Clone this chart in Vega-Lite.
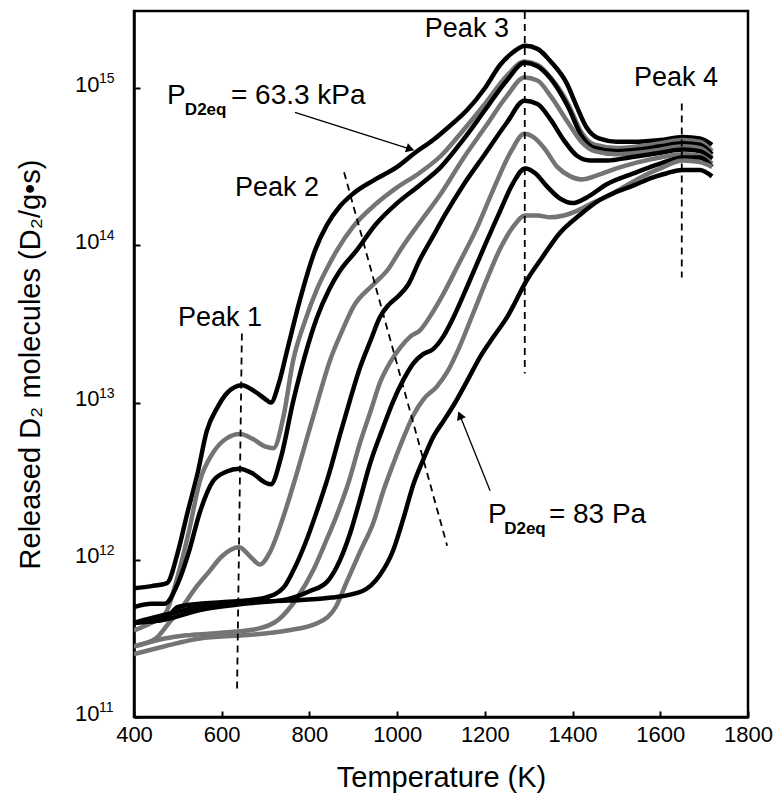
{
"$schema": "https://vega.github.io/schema/vega-lite/v6.json",
"width": 614, "height": 706,
"autosize": {"type": "none"},
"padding": {"left": 134, "top": 11, "right": 29, "bottom": 82},
"background": "white",
"config": {"view": {"stroke": "#000", "strokeWidth": 2.5}, "font": "Liberation Sans", "text": {"font": "Liberation Sans"}},
"datasets": {
"curves": [
{"s":"c1","k":"black","T":400,"v":6.6e11},{"s":"c1","k":"black","T":440,"v":6.8e11},{"s":"c1","k":"black","T":475,"v":7.1e11},{"s":"c1","k":"black","T":500,"v":1.12e12},{"s":"c1","k":"black","T":521,"v":1.95e12},{"s":"c1","k":"black","T":545,"v":3.55e12},{"s":"c1","k":"black","T":566,"v":6.6e12},{"s":"c1","k":"black","T":590,"v":9.3e12},{"s":"c1","k":"black","T":612,"v":1.15e13},{"s":"c1","k":"black","T":646,"v":1.29e13},{"s":"c1","k":"black","T":675,"v":1.18e13},{"s":"c1","k":"black","T":700,"v":1.05e13},{"s":"c1","k":"black","T":712,"v":1.0e13},{"s":"c1","k":"black","T":730,"v":1.32e13},{"s":"c1","k":"black","T":749,"v":2.14e13},{"s":"c1","k":"black","T":778,"v":4.47e13},{"s":"c1","k":"black","T":813,"v":9.33e13},{"s":"c1","k":"black","T":840,"v":1.35e14},{"s":"c1","k":"black","T":870,"v":1.78e14},{"s":"c1","k":"black","T":900,"v":2.14e14},{"s":"c1","k":"black","T":950,"v":2.63e14},{"s":"c1","k":"black","T":1000,"v":3.16e14},{"s":"c1","k":"black","T":1041,"v":3.89e14},{"s":"c1","k":"black","T":1082,"v":4.68e14},{"s":"c1","k":"black","T":1120,"v":5.75e14},{"s":"c1","k":"black","T":1159,"v":7.24e14},{"s":"c1","k":"black","T":1200,"v":1.0e15},{"s":"c1","k":"black","T":1235,"v":1.41e15},{"s":"c1","k":"black","T":1265,"v":1.7e15},{"s":"c1","k":"black","T":1292,"v":1.86e15},{"s":"c1","k":"black","T":1320,"v":1.78e15},{"s":"c1","k":"black","T":1350,"v":1.48e15},{"s":"c1","k":"black","T":1387,"v":1.07e15},{"s":"c1","k":"black","T":1410,"v":7.59e14},{"s":"c1","k":"black","T":1432,"v":5.62e14},{"s":"c1","k":"black","T":1460,"v":4.79e14},{"s":"c1","k":"black","T":1500,"v":4.57e14},{"s":"c1","k":"black","T":1550,"v":4.57e14},{"s":"c1","k":"black","T":1600,"v":4.68e14},{"s":"c1","k":"black","T":1652,"v":4.9e14},{"s":"c1","k":"black","T":1690,"v":4.79e14},{"s":"c1","k":"black","T":1718,"v":4.37e14},
{"s":"c2","k":"gray","T":400,"v":3.55e11},{"s":"c2","k":"gray","T":440,"v":3.98e11},{"s":"c2","k":"gray","T":470,"v":4.47e11},{"s":"c2","k":"gray","T":500,"v":7.94e11},{"s":"c2","k":"gray","T":525,"v":1.51e12},{"s":"c2","k":"gray","T":550,"v":3.16e12},{"s":"c2","k":"gray","T":580,"v":4.79e12},{"s":"c2","k":"gray","T":610,"v":5.89e12},{"s":"c2","k":"gray","T":642,"v":6.31e12},{"s":"c2","k":"gray","T":670,"v":5.89e12},{"s":"c2","k":"gray","T":700,"v":5.25e12},{"s":"c2","k":"gray","T":718,"v":5.13e12},{"s":"c2","k":"gray","T":740,"v":7.94e12},{"s":"c2","k":"gray","T":763,"v":1.86e13},{"s":"c2","k":"gray","T":790,"v":3.31e13},{"s":"c2","k":"gray","T":817,"v":5.25e13},{"s":"c2","k":"gray","T":845,"v":7.59e13},{"s":"c2","k":"gray","T":863,"v":9.33e13},{"s":"c2","k":"gray","T":900,"v":1.32e14},{"s":"c2","k":"gray","T":950,"v":1.82e14},{"s":"c2","k":"gray","T":1000,"v":2.34e14},{"s":"c2","k":"gray","T":1050,"v":2.88e14},{"s":"c2","k":"gray","T":1100,"v":3.72e14},{"s":"c2","k":"gray","T":1150,"v":5.37e14},{"s":"c2","k":"gray","T":1200,"v":7.94e14},{"s":"c2","k":"gray","T":1250,"v":1.2e15},{"s":"c2","k":"gray","T":1290,"v":1.48e15},{"s":"c2","k":"gray","T":1320,"v":1.41e15},{"s":"c2","k":"gray","T":1350,"v":1.17e15},{"s":"c2","k":"gray","T":1390,"v":7.94e14},{"s":"c2","k":"gray","T":1420,"v":5.25e14},{"s":"c2","k":"gray","T":1450,"v":4.37e14},{"s":"c2","k":"gray","T":1500,"v":4.17e14},{"s":"c2","k":"gray","T":1550,"v":4.27e14},{"s":"c2","k":"gray","T":1600,"v":4.47e14},{"s":"c2","k":"gray","T":1652,"v":4.68e14},{"s":"c2","k":"gray","T":1690,"v":4.57e14},{"s":"c2","k":"gray","T":1718,"v":3.98e14},
{"s":"c3","k":"black","T":400,"v":5.01e11},{"s":"c3","k":"black","T":440,"v":5.25e11},{"s":"c3","k":"black","T":470,"v":5.25e11},{"s":"c3","k":"black","T":500,"v":7.08e11},{"s":"c3","k":"black","T":525,"v":1.12e12},{"s":"c3","k":"black","T":550,"v":2.0e12},{"s":"c3","k":"black","T":580,"v":3.16e12},{"s":"c3","k":"black","T":610,"v":3.63e12},{"s":"c3","k":"black","T":640,"v":3.8e12},{"s":"c3","k":"black","T":670,"v":3.55e12},{"s":"c3","k":"black","T":700,"v":3.09e12},{"s":"c3","k":"black","T":712,"v":3.02e12},{"s":"c3","k":"black","T":735,"v":4.47e12},{"s":"c3","k":"black","T":763,"v":1.02e13},{"s":"c3","k":"black","T":790,"v":2.0e13},{"s":"c3","k":"black","T":817,"v":3.47e13},{"s":"c3","k":"black","T":845,"v":5.25e13},{"s":"c3","k":"black","T":870,"v":6.92e13},{"s":"c3","k":"black","T":908,"v":9.33e13},{"s":"c3","k":"black","T":950,"v":1.35e14},{"s":"c3","k":"black","T":1000,"v":1.86e14},{"s":"c3","k":"black","T":1050,"v":2.4e14},{"s":"c3","k":"black","T":1100,"v":3.16e14},{"s":"c3","k":"black","T":1150,"v":4.68e14},{"s":"c3","k":"black","T":1200,"v":7.24e14},{"s":"c3","k":"black","T":1250,"v":1.12e15},{"s":"c3","k":"black","T":1290,"v":1.45e15},{"s":"c3","k":"black","T":1320,"v":1.38e15},{"s":"c3","k":"black","T":1350,"v":1.15e15},{"s":"c3","k":"black","T":1390,"v":7.59e14},{"s":"c3","k":"black","T":1420,"v":5.01e14},{"s":"c3","k":"black","T":1450,"v":4.17e14},{"s":"c3","k":"black","T":1500,"v":3.98e14},{"s":"c3","k":"black","T":1550,"v":4.07e14},{"s":"c3","k":"black","T":1600,"v":4.27e14},{"s":"c3","k":"black","T":1652,"v":4.47e14},{"s":"c3","k":"black","T":1690,"v":4.37e14},{"s":"c3","k":"black","T":1718,"v":3.8e14},
{"s":"c4","k":"gray","T":400,"v":2.82e11},{"s":"c4","k":"gray","T":450,"v":3.16e11},{"s":"c4","k":"gray","T":480,"v":3.98e11},{"s":"c4","k":"gray","T":510,"v":5.01e11},{"s":"c4","k":"gray","T":540,"v":6.61e11},{"s":"c4","k":"gray","T":570,"v":8.32e11},{"s":"c4","k":"gray","T":600,"v":1.05e12},{"s":"c4","k":"gray","T":640,"v":1.2e12},{"s":"c4","k":"gray","T":665,"v":1.05e12},{"s":"c4","k":"gray","T":687,"v":9.33e11},{"s":"c4","k":"gray","T":710,"v":1.12e12},{"s":"c4","k":"gray","T":740,"v":1.86e12},{"s":"c4","k":"gray","T":768,"v":3.31e12},{"s":"c4","k":"gray","T":795,"v":6.03e12},{"s":"c4","k":"gray","T":820,"v":1.05e13},{"s":"c4","k":"gray","T":847,"v":1.86e13},{"s":"c4","k":"gray","T":875,"v":2.88e13},{"s":"c4","k":"gray","T":900,"v":4.07e13},{"s":"c4","k":"gray","T":945,"v":5.62e13},{"s":"c4","k":"gray","T":980,"v":7.08e13},{"s":"c4","k":"gray","T":1007,"v":9.33e13},{"s":"c4","k":"gray","T":1050,"v":1.38e14},{"s":"c4","k":"gray","T":1100,"v":2.14e14},{"s":"c4","k":"gray","T":1150,"v":3.55e14},{"s":"c4","k":"gray","T":1200,"v":5.62e14},{"s":"c4","k":"gray","T":1250,"v":8.91e14},{"s":"c4","k":"gray","T":1290,"v":1.17e15},{"s":"c4","k":"gray","T":1320,"v":1.12e15},{"s":"c4","k":"gray","T":1350,"v":8.91e14},{"s":"c4","k":"gray","T":1390,"v":6.03e14},{"s":"c4","k":"gray","T":1420,"v":4.57e14},{"s":"c4","k":"gray","T":1450,"v":3.98e14},{"s":"c4","k":"gray","T":1500,"v":3.8e14},{"s":"c4","k":"gray","T":1550,"v":3.89e14},{"s":"c4","k":"gray","T":1600,"v":4.07e14},{"s":"c4","k":"gray","T":1652,"v":4.27e14},{"s":"c4","k":"gray","T":1690,"v":4.17e14},{"s":"c4","k":"gray","T":1718,"v":3.63e14},
{"s":"c5","k":"black","T":400,"v":3.98e11},{"s":"c5","k":"black","T":470,"v":4.17e11},{"s":"c5","k":"black","T":500,"v":5.01e11},{"s":"c5","k":"black","T":550,"v":5.25e11},{"s":"c5","k":"black","T":600,"v":5.37e11},{"s":"c5","k":"black","T":650,"v":5.5e11},{"s":"c5","k":"black","T":700,"v":5.75e11},{"s":"c5","k":"black","T":740,"v":6.61e11},{"s":"c5","k":"black","T":763,"v":8.51e11},{"s":"c5","k":"black","T":790,"v":1.26e12},{"s":"c5","k":"black","T":817,"v":2.04e12},{"s":"c5","k":"black","T":845,"v":3.55e12},{"s":"c5","k":"black","T":870,"v":6.31e12},{"s":"c5","k":"black","T":893,"v":1.05e13},{"s":"c5","k":"black","T":915,"v":1.66e13},{"s":"c5","k":"black","T":940,"v":2.51e13},{"s":"c5","k":"black","T":960,"v":3.47e13},{"s":"c5","k":"black","T":980,"v":4.17e13},{"s":"c5","k":"black","T":1000,"v":4.68e13},{"s":"c5","k":"black","T":1025,"v":5.62e13},{"s":"c5","k":"black","T":1052,"v":8.13e13},{"s":"c5","k":"black","T":1080,"v":1.12e14},{"s":"c5","k":"black","T":1110,"v":1.58e14},{"s":"c5","k":"black","T":1150,"v":2.4e14},{"s":"c5","k":"black","T":1200,"v":3.8e14},{"s":"c5","k":"black","T":1250,"v":6.03e14},{"s":"c5","k":"black","T":1290,"v":8.32e14},{"s":"c5","k":"black","T":1320,"v":7.94e14},{"s":"c5","k":"black","T":1350,"v":6.31e14},{"s":"c5","k":"black","T":1380,"v":4.68e14},{"s":"c5","k":"black","T":1410,"v":3.72e14},{"s":"c5","k":"black","T":1440,"v":3.47e14},{"s":"c5","k":"black","T":1480,"v":3.47e14},{"s":"c5","k":"black","T":1530,"v":3.63e14},{"s":"c5","k":"black","T":1600,"v":3.89e14},{"s":"c5","k":"black","T":1652,"v":4.07e14},{"s":"c5","k":"black","T":1690,"v":3.98e14},{"s":"c5","k":"black","T":1718,"v":3.55e14},
{"s":"c6","k":"gray","T":400,"v":2.82e11},{"s":"c6","k":"gray","T":470,"v":3.16e11},{"s":"c6","k":"gray","T":520,"v":3.31e11},{"s":"c6","k":"gray","T":570,"v":3.39e11},{"s":"c6","k":"gray","T":620,"v":3.47e11},{"s":"c6","k":"gray","T":680,"v":3.63e11},{"s":"c6","k":"gray","T":730,"v":4.17e11},{"s":"c6","k":"gray","T":770,"v":5.62e11},{"s":"c6","k":"gray","T":808,"v":8.51e11},{"s":"c6","k":"gray","T":835,"v":1.26e12},{"s":"c6","k":"gray","T":862,"v":1.91e12},{"s":"c6","k":"gray","T":890,"v":3.16e12},{"s":"c6","k":"gray","T":915,"v":5.5e12},{"s":"c6","k":"gray","T":940,"v":8.91e12},{"s":"c6","k":"gray","T":960,"v":1.32e13},{"s":"c6","k":"gray","T":985,"v":1.82e13},{"s":"c6","k":"gray","T":1007,"v":2.24e13},{"s":"c6","k":"gray","T":1030,"v":2.63e13},{"s":"c6","k":"gray","T":1052,"v":2.88e13},{"s":"c6","k":"gray","T":1080,"v":3.72e13},{"s":"c6","k":"gray","T":1105,"v":4.9e13},{"s":"c6","k":"gray","T":1140,"v":7.59e13},{"s":"c6","k":"gray","T":1180,"v":1.26e14},{"s":"c6","k":"gray","T":1220,"v":2.29e14},{"s":"c6","k":"gray","T":1260,"v":3.98e14},{"s":"c6","k":"gray","T":1290,"v":5.13e14},{"s":"c6","k":"gray","T":1310,"v":4.9e14},{"s":"c6","k":"gray","T":1335,"v":4.17e14},{"s":"c6","k":"gray","T":1365,"v":3.16e14},{"s":"c6","k":"gray","T":1395,"v":2.75e14},{"s":"c6","k":"gray","T":1420,"v":2.63e14},{"s":"c6","k":"gray","T":1460,"v":2.82e14},{"s":"c6","k":"gray","T":1500,"v":3.09e14},{"s":"c6","k":"gray","T":1550,"v":3.39e14},{"s":"c6","k":"gray","T":1600,"v":3.63e14},{"s":"c6","k":"gray","T":1652,"v":3.8e14},{"s":"c6","k":"gray","T":1690,"v":3.72e14},{"s":"c6","k":"gray","T":1718,"v":3.31e14},
{"s":"c7","k":"black","T":400,"v":3.98e11},{"s":"c7","k":"black","T":470,"v":4.17e11},{"s":"c7","k":"black","T":550,"v":4.79e11},{"s":"c7","k":"black","T":650,"v":5.25e11},{"s":"c7","k":"black","T":750,"v":5.62e11},{"s":"c7","k":"black","T":800,"v":6.31e11},{"s":"c7","k":"black","T":840,"v":7.24e11},{"s":"c7","k":"black","T":870,"v":1.0e12},{"s":"c7","k":"black","T":893,"v":1.48e12},{"s":"c7","k":"black","T":915,"v":2.4e12},{"s":"c7","k":"black","T":938,"v":4.07e12},{"s":"c7","k":"black","T":965,"v":6.61e12},{"s":"c7","k":"black","T":991,"v":1.02e13},{"s":"c7","k":"black","T":1015,"v":1.41e13},{"s":"c7","k":"black","T":1037,"v":1.78e13},{"s":"c7","k":"black","T":1060,"v":2.04e13},{"s":"c7","k":"black","T":1082,"v":2.19e13},{"s":"c7","k":"black","T":1105,"v":2.63e13},{"s":"c7","k":"black","T":1128,"v":3.47e13},{"s":"c7","k":"black","T":1160,"v":5.5e13},{"s":"c7","k":"black","T":1200,"v":1.0e14},{"s":"c7","k":"black","T":1235,"v":1.66e14},{"s":"c7","k":"black","T":1265,"v":2.51e14},{"s":"c7","k":"black","T":1292,"v":3.09e14},{"s":"c7","k":"black","T":1315,"v":2.88e14},{"s":"c7","k":"black","T":1340,"v":2.4e14},{"s":"c7","k":"black","T":1370,"v":2.0e14},{"s":"c7","k":"black","T":1400,"v":1.86e14},{"s":"c7","k":"black","T":1430,"v":2.0e14},{"s":"c7","k":"black","T":1478,"v":2.45e14},{"s":"c7","k":"black","T":1540,"v":2.88e14},{"s":"c7","k":"black","T":1600,"v":3.31e14},{"s":"c7","k":"black","T":1652,"v":3.63e14},{"s":"c7","k":"black","T":1690,"v":3.63e14},{"s":"c7","k":"black","T":1718,"v":3.16e14},
{"s":"c8","k":"gray","T":400,"v":2.51e11},{"s":"c8","k":"gray","T":470,"v":2.82e11},{"s":"c8","k":"gray","T":550,"v":3.16e11},{"s":"c8","k":"gray","T":650,"v":3.31e11},{"s":"c8","k":"gray","T":750,"v":3.55e11},{"s":"c8","k":"gray","T":820,"v":3.98e11},{"s":"c8","k":"gray","T":860,"v":5.01e11},{"s":"c8","k":"gray","T":885,"v":7.24e11},{"s":"c8","k":"gray","T":915,"v":1.12e12},{"s":"c8","k":"gray","T":945,"v":1.7e12},{"s":"c8","k":"gray","T":970,"v":2.82e12},{"s":"c8","k":"gray","T":991,"v":4.07e12},{"s":"c8","k":"gray","T":1015,"v":6.03e12},{"s":"c8","k":"gray","T":1037,"v":8.32e12},{"s":"c8","k":"gray","T":1060,"v":1.05e13},{"s":"c8","k":"gray","T":1090,"v":1.26e13},{"s":"c8","k":"gray","T":1115,"v":1.58e13},{"s":"c8","k":"gray","T":1143,"v":2.29e13},{"s":"c8","k":"gray","T":1175,"v":3.8e13},{"s":"c8","k":"gray","T":1204,"v":6.03e13},{"s":"c8","k":"gray","T":1235,"v":9.55e13},{"s":"c8","k":"gray","T":1265,"v":1.32e14},{"s":"c8","k":"gray","T":1292,"v":1.55e14},{"s":"c8","k":"gray","T":1320,"v":1.55e14},{"s":"c8","k":"gray","T":1349,"v":1.51e14},{"s":"c8","k":"gray","T":1380,"v":1.55e14},{"s":"c8","k":"gray","T":1410,"v":1.66e14},{"s":"c8","k":"gray","T":1445,"v":1.86e14},{"s":"c8","k":"gray","T":1478,"v":2.04e14},{"s":"c8","k":"gray","T":1515,"v":2.34e14},{"s":"c8","k":"gray","T":1553,"v":2.69e14},{"s":"c8","k":"gray","T":1600,"v":3.09e14},{"s":"c8","k":"gray","T":1652,"v":3.47e14},{"s":"c8","k":"gray","T":1690,"v":3.39e14},{"s":"c8","k":"gray","T":1718,"v":3.16e14},
{"s":"c9","k":"black","T":400,"v":3.98e11},{"s":"c9","k":"black","T":470,"v":4.47e11},{"s":"c9","k":"black","T":550,"v":5.01e11},{"s":"c9","k":"black","T":650,"v":5.37e11},{"s":"c9","k":"black","T":750,"v":5.5e11},{"s":"c9","k":"black","T":850,"v":5.75e11},{"s":"c9","k":"black","T":920,"v":6.31e11},{"s":"c9","k":"black","T":960,"v":7.94e11},{"s":"c9","k":"black","T":991,"v":1.15e12},{"s":"c9","k":"black","T":1015,"v":1.86e12},{"s":"c9","k":"black","T":1037,"v":3.02e12},{"s":"c9","k":"black","T":1060,"v":4.37e12},{"s":"c9","k":"black","T":1082,"v":6.03e12},{"s":"c9","k":"black","T":1105,"v":7.59e12},{"s":"c9","k":"black","T":1128,"v":9.55e12},{"s":"c9","k":"black","T":1160,"v":1.38e13},{"s":"c9","k":"black","T":1189,"v":1.95e13},{"s":"c9","k":"black","T":1220,"v":2.63e13},{"s":"c9","k":"black","T":1250,"v":3.47e13},{"s":"c9","k":"black","T":1296,"v":6.03e13},{"s":"c9","k":"black","T":1330,"v":8.32e13},{"s":"c9","k":"black","T":1371,"v":1.2e14},{"s":"c9","k":"black","T":1415,"v":1.55e14},{"s":"c9","k":"black","T":1462,"v":1.95e14},{"s":"c9","k":"black","T":1500,"v":2.19e14},{"s":"c9","k":"black","T":1538,"v":2.4e14},{"s":"c9","k":"black","T":1580,"v":2.69e14},{"s":"c9","k":"black","T":1615,"v":2.88e14},{"s":"c9","k":"black","T":1650,"v":3.02e14},{"s":"c9","k":"black","T":1690,"v":3.02e14},{"s":"c9","k":"black","T":1718,"v":2.75e14}
],
"dashes": [
{"T":646,"v":2.75e13,"T2":635,"v2":1.51e11},
{"T":879,"v":2.92e14,"T2":1114,"v2":1.23e12},
{"T":1291,"v":3.05e15,"T2":1291,"v2":1.53e13},
{"T":1649,"v":8.0e14,"T2":1649,"v2":6.25e13}
],
"arrowTop": [{"T":767,"v":7.03e14,"T2":1030,"v2":4.1e14}],
"arrowBot": [{"T":1212,"v":2.75e12,"T2":1143,"v2":8.3e12}],
"exps": [
{"label":"11","T":400,"v":1e11},{"label":"12","T":400,"v":1e12},{"label":"13","T":400,"v":1e13},{"label":"14","T":400,"v":1e14},{"label":"15","T":400,"v":1e15}
],
"peaks": [
{"label":"Peak 1","T":596,"v":3.43e13},
{"label":"Peak 2","T":726,"v":2.31e14},
{"label":"Peak 3","T":1159,"v":2.38e15},
{"label":"Peak 4","T":1636,"v":1.16e15}
],
"pBig": [{"label":"P","T":475,"v":7.91e14},{"label":"P","T":1207,"v":1.72e12}],
"pSub": [{"label":"D2eq","T":516,"v":6.73e14},{"label":"D2eq","T":1244,"v":1.47e12}],
"pRest": [{"label":"= 63.3 kPa","T":621,"v":7.91e14},{"label":"= 83 Pa","T":1346,"v":1.72e12}]
},
"layer": [
{
"data": {"name": "curves"},
"mark": {"type": "line", "strokeWidth": 4.5, "interpolate": "monotone", "clip": true},
"encoding": {
"x": {"field": "T", "type": "quantitative", "scale": {"domain": [400, 1800], "nice": false, "zero": false},
"axis": {"values": [400, 600, 800, 1000, 1200, 1400, 1600, 1800], "format": "d", "title": "Temperature (K)", "grid": false,
"domainColor": "#000", "domainWidth": 2.5, "tickColor": "#000", "tickWidth": 2, "tickSize": -6, "labelFlush": false,
"labelFontSize": 22, "labelColor": "#000", "labelPadding": 13, "labelFont": "Liberation Sans",
"titleFontSize": 29, "titleFontWeight": "normal", "titleColor": "#000", "titleFont": "Liberation Sans", "titleY": 69, "titleBaseline": "alphabetic"}},
"y": {"field": "v", "type": "quantitative", "scale": {"type": "log", "domain": [1e11, 3.1e15], "nice": false},
"axis": {"values": [1e11, 1e12, 1e13, 1e14, 1e15], "title": "Released D₂ molecules (D₂/g•s)", "grid": false,
"labelExpr": "'10'", "labelOffset": -4, "labelFlush": false,
"domainColor": "#000", "domainWidth": 2.5, "tickColor": "#000", "tickWidth": 2, "tickSize": -6,
"labelFontSize": 22, "labelColor": "#000", "labelPadding": 41, "labelFont": "Liberation Sans",
"titleFontSize": 29, "titleFontWeight": "normal", "titleColor": "#000", "titleFont": "Liberation Sans", "titleX": -104, "titleBaseline": "middle"}},
"color": {"field": "k", "type": "nominal", "scale": {"domain": ["black", "gray"], "range": ["#000000", "#747474"]}, "legend": null},
"detail": {"field": "s", "type": "nominal"}
}
},
{
"data": {"name": "exps"},
"mark": {"type": "text", "fontSize": 14, "align": "left", "baseline": "middle", "dx": -35, "dy": -9, "color": "#000", "font": "Liberation Sans", "clip": false},
"encoding": {
"x": {"field": "T", "type": "quantitative"},
"y": {"field": "v", "type": "quantitative"},
"text": {"field": "label"}
}
},
{
"data": {"name": "dashes"},
"mark": {"type": "rule", "strokeDash": [7, 5], "strokeWidth": 1.8, "color": "#000"},
"encoding": {
"x": {"field": "T", "type": "quantitative"},
"y": {"field": "v", "type": "quantitative"},
"x2": {"field": "T2"}, "y2": {"field": "v2"}
}
},
{
"data": {"name": "arrowTop"},
"layer": [
{"mark": {"type": "rule", "strokeWidth": 1.3, "color": "#000"},
"encoding": {
"x": {"field": "T", "type": "quantitative"},
"y": {"field": "v", "type": "quantitative"},
"x2": {"field": "T2"}, "y2": {"field": "v2"}}},
{"mark": {"type": "point", "shape": "triangle-up", "filled": true, "color": "#000", "size": 90, "angle": 108, "opacity": 1},
"encoding": {
"x": {"field": "T2", "type": "quantitative"},
"y": {"field": "v2", "type": "quantitative"}}}
]
},
{
"data": {"name": "arrowBot"},
"layer": [
{"mark": {"type": "rule", "strokeWidth": 1.3, "color": "#000"},
"encoding": {
"x": {"field": "T", "type": "quantitative"},
"y": {"field": "v", "type": "quantitative"},
"x2": {"field": "T2"}, "y2": {"field": "v2"}}},
{"mark": {"type": "point", "shape": "triangle-up", "filled": true, "color": "#000", "size": 90, "angle": 337, "opacity": 1},
"encoding": {
"x": {"field": "T2", "type": "quantitative"},
"y": {"field": "v2", "type": "quantitative"}}}
]
},
{
"data": {"name": "peaks"},
"mark": {"type": "text", "fontSize": 27, "align": "center", "baseline": "middle", "color": "#000", "font": "Liberation Sans"},
"encoding": {
"x": {"field": "T", "type": "quantitative"},
"y": {"field": "v", "type": "quantitative"},
"text": {"field": "label"}
}
},
{
"data": {"name": "pBig"},
"mark": {"type": "text", "fontSize": 28, "align": "left", "baseline": "alphabetic", "color": "#000", "font": "Liberation Sans"},
"encoding": {
"x": {"field": "T", "type": "quantitative"},
"y": {"field": "v", "type": "quantitative"},
"text": {"field": "label"}
}
},
{
"data": {"name": "pSub"},
"mark": {"type": "text", "fontSize": 17, "fontWeight": "bold", "align": "left", "baseline": "alphabetic", "color": "#000", "font": "Liberation Sans"},
"encoding": {
"x": {"field": "T", "type": "quantitative"},
"y": {"field": "v", "type": "quantitative"},
"text": {"field": "label"}
}
},
{
"data": {"name": "pRest"},
"mark": {"type": "text", "fontSize": 28, "align": "left", "baseline": "alphabetic", "color": "#000", "font": "Liberation Sans"},
"encoding": {
"x": {"field": "T", "type": "quantitative"},
"y": {"field": "v", "type": "quantitative"},
"text": {"field": "label"}
}
}
]
}
